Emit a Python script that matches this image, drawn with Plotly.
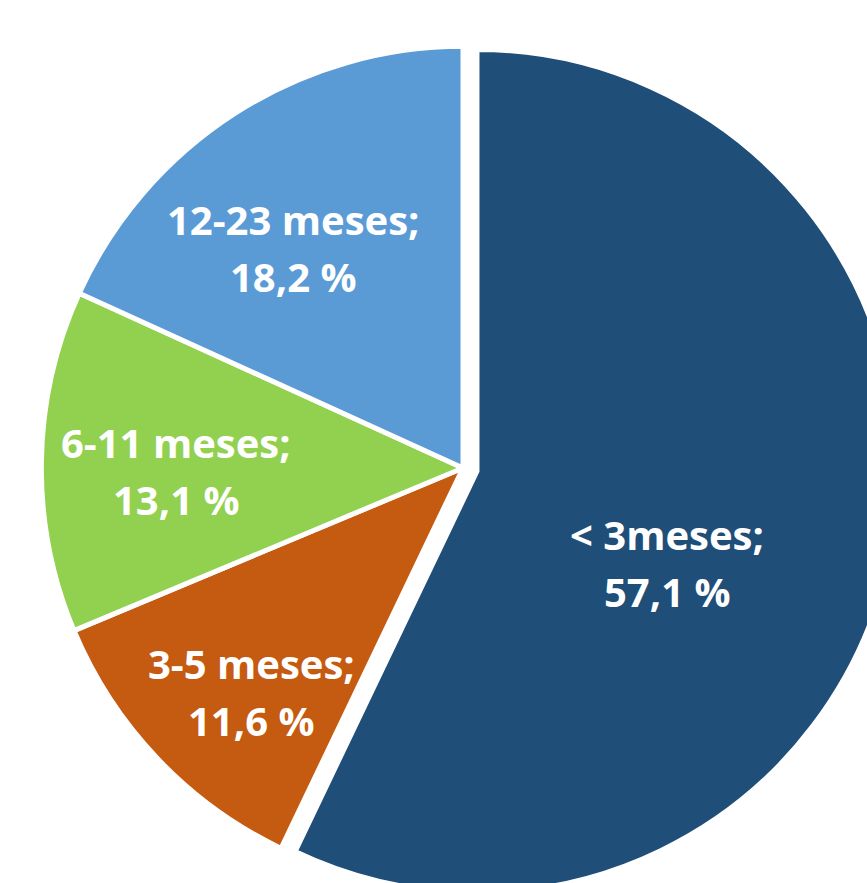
import math
import plotly.graph_objects as go

labels = ["< 3meses", "3-5 meses", "6-11 meses", "12-23 meses"]
values = [57.1, 11.6, 13.1, 18.2]
colors = ["#1F4E79", "#C55A11", "#92D050", "#5B9BD5"]
pulls = [0.034, 0, 0, 0]

# label placement (style): radial fraction and angle tweak in degrees
label_rfrac = [0.50, 0.73, 0.68, 0.66]
label_dtheta = [13, -3, -1.5, -5]
LINE_GAP = 57  # px between the two text lines

W, H = 917, 922
ML, MR, MT, MB = 27, 18, 32, 18

fig = go.Figure(go.Pie(
    labels=labels,
    values=values,
    sort=False,
    direction="clockwise",
    rotation=0,
    pull=pulls,
    marker=dict(colors=colors, line=dict(color="white", width=5)),
    textinfo="none",
    hoverinfo="none",
    showlegend=False,
))

pw, ph = W - ML - MR, H - MT - MB
maxpull = max(pulls)
R = min(pw, ph) / 2 / (1 + maxpull)
total = sum(values)
cum = 0
annotations = []
font = dict(family="Open Sans", size=40, color="white")
for lab, v, p, rf, dt in zip(labels, values, pulls, label_rfrac, label_dtheta):
    mid = (cum + v / 2) / total * 360
    cum += v
    mr = math.radians(mid)
    cx = p * R * math.sin(mr)
    cy = p * R * math.cos(mr)
    th = math.radians(mid + dt)
    dx = cx + rf * R * math.sin(th)
    dy = cy + rf * R * math.cos(th)
    lines = ["<b>%s;</b>" % lab, "<b>%s %%</b>" % ("%.1f" % v).replace(".", ",")]
    for i, t in enumerate(lines):
        off = (0.5 - i) * LINE_GAP
        annotations.append(dict(
            x=0.5 + dx / pw, y=0.5 + (dy + off) / ph, xref="paper", yref="paper",
            text=t, showarrow=False, xanchor="center", yanchor="middle",
            font=font,
        ))

fig.update_layout(
    width=W, height=H,
    margin=dict(l=ML, r=MR, t=MT, b=MB),
    paper_bgcolor="white",
    annotations=annotations,
)

fig.write_html("out.html", post_script="document.body.style.overflow='hidden';document.body.style.margin='0';")
